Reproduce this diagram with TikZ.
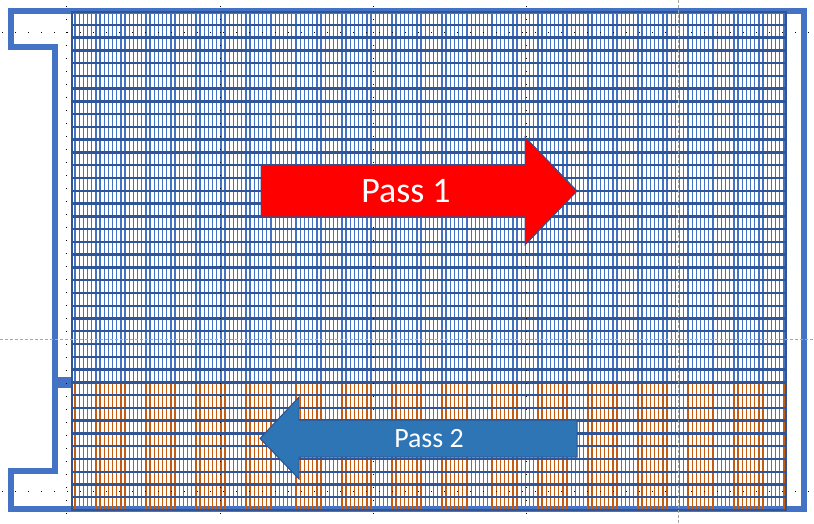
\documentclass[tikz,border=0pt]{standalone}
\usepackage{fontspec}
\setmainfont{Carlito}
\usetikzlibrary{calc}
\definecolor{frameblue}{HTML}{4472C4}
\definecolor{bardark}{HTML}{2F5597}
\definecolor{slotorange}{HTML}{C55A11}
\definecolor{passblue}{HTML}{2E75B6}
\definecolor{edgeblue}{HTML}{2F528F}
\tikzset{
    frame/.style={
    draw=frameblue,line width=6bp,line join=miter
    },
    slot/.style={
    line width=1.3bp
    },
    bar/.style={
    draw=bardark,line width=2.4bp
    },
    passarrow/.style={
    draw=edgeblue,line width=1bp,line join=miter
    },
    passlabel/.style={
    text=white,inner sep=0pt
    },
    guide/.style={
    draw=black,line width=0.9bp,dash pattern=on 1bp off 12bp
    },
    sguide/.style={
    draw=gray!70,line width=0.8bp,dash pattern=on 3bp off 2bp
    },
}

\begin{document}
\begin{tikzpicture}[x=1bp,y=-1bp]
   \useasboundingbox (0,0) rectangle (814,524);
   % outline of the frame
   \draw[frame] (11,11) -- (804,11) -- (804,509) -- (11,509) -- (11,471)
     -- (55,471) -- (55,47) -- (11,47) -- cycle;
   \fill[frameblue] (55,377) rectangle (73,388);

   % slots
   \draw[slot,frameblue] \foreach \i in {0,...,170} {({75+4.17*\i},12) -- ++(0,370)};
   \draw[slot,slotorange] \foreach \i in {0,...,170} {({75+4.17*\i},382) -- ++(0,128)};
   \foreach \j in {1,...,38}
     \draw[bar] (72,{12+12.77*\j}) -- (786,{12+12.77*\j});
   \draw[bar] (72,12) rectangle (786,510);

   % guides
   \foreach \gy in {32,491}
     \draw[guide] (2,\gy) -- (814,\gy);
   \foreach \gx in {66,220,373,526}
     \draw[guide] (\gx,6) -- (\gx,524);
   \draw[sguide] (0,339) -- (814,339);
   \draw[sguide] (678,0) -- (678,524);

   % passes
   \draw[passarrow,fill=red] (261,165) -- (525,165) -- (525,137) -- (577,191)
     -- (525,245) -- (525,217) -- (261,217) -- cycle;
   \node[passlabel,font=\fontsize{36}{36}\selectfont] (pass1) at (406,191.5) {Pass 1};
   \draw[passarrow,fill=passblue] (577,420) -- (299,420) -- (299,397) -- (260,438.5)
     -- (299,479) -- (299,457) -- (577,457) -- cycle;
   \node[passlabel,font=\fontsize{28}{28}\selectfont] (pass2) at (429,439) {Pass 2};
\end{tikzpicture}
\end{document}
